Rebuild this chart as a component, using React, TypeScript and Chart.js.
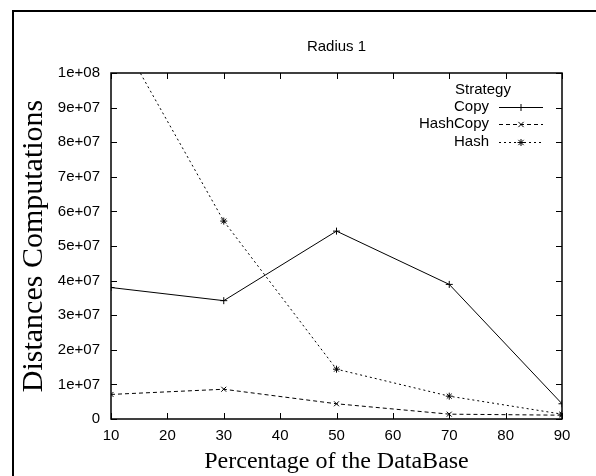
import React, { useEffect, useRef } from "react";
import { Chart, registerables } from "chart.js";

Chart.register(...registerables);

// ---- data ----
const percentages = [10, 30, 50, 70, 90];
const copyValues = [3.8e7, 3.42e7, 5.43e7, 3.89e7, 4.4e6];
const hashCopyValues = [7.1e6, 8.6e6, 4.4e6, 1.4e6, 1.1e6];
const hashValues = [1.15e8, 5.72e7, 1.44e7, 6.6e6, 1.4e6];
const seriesLabels = ["Copy", "HashCopy", "Hash"];
const xTickValues = [10, 20, 30, 40, 50, 60, 70, 80, 90];
const yTickLabels = [
  "0",
  "1e+07",
  "2e+07",
  "3e+07",
  "4e+07",
  "5e+07",
  "6e+07",
  "7e+07",
  "8e+07",
  "9e+07",
  "1e+08",
];
const chartTitle = "Radius 1";
const legendTitle = "Strategy";
const xTitle = "Percentage of the DataBase";
const yTitle = "Distances Computations";

const SANS = "'Liberation Sans', Arial, sans-serif";
const SERIF = "'Liberation Serif', 'Times New Roman', serif";

function drawMarker(ctx: CanvasRenderingContext2D, style: string, x: number, y: number, r: number) {
  ctx.beginPath();
  if (style === "cross" || style === "star") {
    ctx.moveTo(x - r, y);
    ctx.lineTo(x + r, y);
    ctx.moveTo(x, y - r);
    ctx.lineTo(x, y + r);
  }
  if (style === "crossRot" || style === "star") {
    const d = r * 0.75;
    ctx.moveTo(x - d, y - d);
    ctx.lineTo(x + d, y + d);
    ctx.moveTo(x - d, y + d);
    ctx.lineTo(x + d, y - d);
  }
  ctx.stroke();
}

const framePlugin = {
  id: "gnuFrame",
  beforeDatasetsDraw(chart: any) {
    const { ctx, chartArea, scales } = chart;
    const { left, top, right, bottom } = chartArea;
    const x = scales.x;
    const y = scales.y;
    ctx.save();
    ctx.strokeStyle = "#000";
    ctx.lineWidth = 1;
    ctx.setLineDash([]);
    ctx.beginPath();
    for (const v of xTickValues) {
      const px = Math.round(x.getPixelForValue(v)) + 0.5;
      ctx.moveTo(px, bottom);
      ctx.lineTo(px, bottom - 6);
      ctx.moveTo(px, top);
      ctx.lineTo(px, top + 6);
    }
    for (const t of y.ticks) {
      const py = Math.round(y.getPixelForValue(t.value)) + 0.5;
      ctx.moveTo(left, py);
      ctx.lineTo(left + 6, py);
      ctx.moveTo(right, py);
      ctx.lineTo(right - 6, py);
    }
    ctx.stroke();
    ctx.lineWidth = 1.5;
    ctx.strokeRect(left, top, right - left, bottom - top);
    // outer page frame
    ctx.lineWidth = 2;
    ctx.beginPath();
    ctx.moveTo(13, chart.height + 2);
    ctx.lineTo(13, 11);
    ctx.lineTo(chart.width + 2, 11);
    ctx.stroke();
    ctx.restore();
  },
};

const legendPlugin = {
  id: "gnuLegend",
  afterDatasetsDraw(chart: any) {
    const { ctx, chartArea } = chart;
    const { top, right } = chartArea;
    ctx.save();
    ctx.fillStyle = "#000";
    ctx.strokeStyle = "#000";
    ctx.font = `15px ${SANS}`;
    ctx.textBaseline = "middle";
    ctx.textAlign = "center";
    ctx.fillText(legendTitle, right - 79, top + 17);
    chart.data.datasets.forEach((ds: any, i: number) => {
      const ry = top + 34 + i * 17.3;
      ctx.textAlign = "right";
      ctx.fillText(ds.label, right - 73, ry);
      ctx.lineWidth = 1;
      ctx.setLineDash(ds.borderDash || []);
      ctx.beginPath();
      ctx.moveTo(right - 63, Math.round(ry) + 0.5);
      ctx.lineTo(right - 19, Math.round(ry) + 0.5);
      ctx.stroke();
      ctx.setLineDash([]);
      drawMarker(ctx, ds.pointStyle, right - 41, Math.round(ry) + 0.5, 3.5);
    });
    ctx.restore();
  },
};

export default function App() {
  const ref = useRef<HTMLCanvasElement>(null);

  useEffect(() => {
    if (!ref.current) return;
    const mk = (vals: number[]) => percentages.map((p, i) => ({ x: p, y: vals[i] }));
    const common = {
      borderColor: "#000",
      backgroundColor: "#000",
      borderWidth: 1,
      pointBorderColor: "#000",
      pointBackgroundColor: "#000",
      pointBorderWidth: 1,
      pointRadius: 3.5,
      tension: 0,
      fill: false,
    };
    const chart = new Chart(ref.current, {
      type: "line",
      data: {
        datasets: [
          { ...common, label: seriesLabels[0], data: mk(copyValues), pointStyle: "cross", borderDash: [] },
          { ...common, label: seriesLabels[1], data: mk(hashCopyValues), pointStyle: "crossRot", borderDash: [4, 3] },
          { ...common, label: seriesLabels[2], data: mk(hashValues), pointStyle: "star", borderDash: [2, 3] },
        ],
      },
      options: {
        animation: false,
        responsive: false,
        devicePixelRatio: 1,
        layout: { padding: { left: 0, top: 0, right: 34, bottom: 0 } },
        plugins: {
          legend: { display: false },
          tooltip: { enabled: false },
          title: {
            display: true,
            text: chartTitle,
            fullSize: false,
            color: "#000",
            font: { family: SANS, size: 15, weight: "normal" },
            padding: { top: 38, bottom: 17 },
          },
        },
        scales: {
          x: {
            type: "linear",
            min: 10,
            max: 90,
            afterFit: (s: any) => {
              s.height = 57;
            },
            afterBuildTicks: (s: any) => {
              s.ticks = xTickValues.map((v) => ({ value: v }));
            },
            grid: { display: false, drawTicks: false },
            border: { display: false },
            ticks: {
              color: "#000",
              font: { family: SANS, size: 15 },
              padding: 8,
              maxRotation: 0,
              autoSkip: false,
              callback: (v: any) => String(v),
            },
            title: {
              display: true,
              text: xTitle,
              color: "#000",
              font: { family: SERIF, size: 24 },
              padding: { top: 0, bottom: 0 },
            },
          },
          y: {
            type: "linear",
            min: 0,
            max: 1e8,
            afterFit: (s: any) => {
              s.width = 111;
            },
            afterBuildTicks: (s: any) => {
              s.ticks = yTickLabels.map((_, i) => ({ value: i * 1e7 }));
            },
            grid: { display: false, drawTicks: false },
            border: { display: false },
            ticks: {
              color: "#000",
              font: { family: SANS, size: 15 },
              padding: 11,
              autoSkip: false,
              callback: (_v: any, i: number) => yTickLabels[i],
            },
            title: {
              display: true,
              text: yTitle,
              color: "#000",
              font: { family: SERIF, size: 30 },
              padding: { top: 16, bottom: 0 },
            },
          },
        },
      },
      plugins: [framePlugin, legendPlugin],
    });
    return () => chart.destroy();
  }, []);

  return (
    <div style={{ position: "fixed", left: 0, top: 0, width: 596, height: 476, background: "#fff" }}>
      <canvas ref={ref} width={596} height={476} style={{ display: "block" }} />
    </div>
  );
}
